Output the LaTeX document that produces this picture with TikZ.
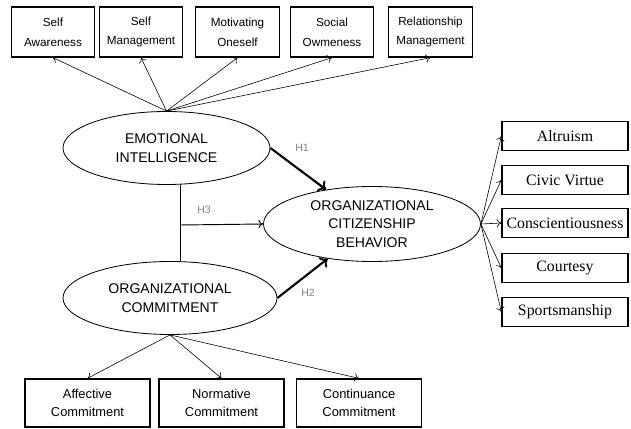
\documentclass[tikz,border=0pt]{standalone}
\usepackage{fontspec}
\setsansfont{Liberation Sans}
\newfontfamily\rmlib{Liberation Serif}
\usetikzlibrary{shapes.geometric, arrows.meta, positioning}
\definecolor{hypGray}{RGB}{130, 130, 130}
\tikzset{
  topbox/.style={draw, line width=1.1pt, minimum width=2.5cm, minimum height=1.5cm, inner sep=1pt, align=center, font=\sffamily\fontsize{10}{17}\selectfont},
  ocbbox/.style={draw, line width=1.1pt, minimum width=3.78cm, minimum height=0.87cm, inner sep=1pt, font=\rmlib\fontsize{13.5}{14}\selectfont},
  ocbox/.style={draw, line width=1.1pt, minimum width=3.75cm, minimum height=1.44cm, inner sep=1pt, align=center, font=\sffamily\fontsize{11}{15}\selectfont},
  construct/.style={draw, ellipse, line width=0.7pt, inner sep=0pt, align=center, font=\sffamily\fontsize{12}{16}\selectfont},
  thinarrow/.style={line width=0.5pt, -{To[length=4pt, width=7pt]}},
  boldarrow/.style={line width=1.8pt, -{To[length=6pt, width=11pt, line width=1.6pt]}},
  hyp/.style={text=hypGray, font=\sffamily\fontsize{9}{10}\selectfont}
}

\begin{document}
\begin{tikzpicture}[x=0.03cm, y=-0.03cm]
  \useasboundingbox (0,0) rectangle (631,429);
  % latent constructs
  \node[construct, minimum width=6.21cm, minimum height=2.19cm] (ei) at (166.5,148) {EMOTIONAL\\INTELLIGENCE};
  \node[construct, minimum width=6.42cm, minimum height=2.19cm] (oc) at (170,298) {ORGANIZATIONAL\\COMMITMENT};
  \node[construct, minimum width=6.51cm, minimum height=2.25cm] (ocb) at (372,224) {ORGANIZATIONAL\\CITIZENSHIP\\BEHAVIOR};

  % emotional intelligence dimensions
  \node[topbox] (sa) at (53,32) {Self\\Awareness};
  \node[topbox] (sm) at (141,32) {Self\\Management};
  \node[topbox] (mo) at (237.5,32) {Motivating\\Oneself};
  \node[topbox] (so) at (332,32) {Social\\Owmeness};
  \node[topbox] (rm) at (430.5,32) {Relationship\\Management};

  % citizenship behavior dimensions
  \node[ocbbox] (al) at (565,136) {Altruism};
  \node[ocbbox] (cv) at (565,180) {Civic Virtue};
  \node[ocbbox] (cs) at (565,223) {Conscientiousness};
  \node[ocbbox] (co) at (565,268) {Courtesy};
  \node[ocbbox] (sp) at (565,312) {Sportsmanship};

  % commitment dimensions
  \node[ocbox] (ac) at (87.5,403) {Affective\\Commitment};
  \node[ocbox] (nc) at (221.5,403) {Normative\\Commitment};
  \node[ocbox] (cc) at (359,403) {Continuance\\Commitment};

  \foreach \d in {sa, sm, mo, so, rm}
    \draw[thinarrow] (ei.north) -- (\d.south);
  \foreach \d in {al, cv, cs, co, sp}
    \draw[thinarrow] (ocb.east) -- (\d.west);
  \foreach \d in {ac, nc, cc}
    \draw[thinarrow] (oc.south) -- (\d.north);

  % hypotheses
  \draw[boldarrow] (ei.east) -- (ocb);
  \draw[boldarrow] (oc.east) -- (ocb);
  \coordinate (mid) at (180,225);
  \draw[line width=0.8pt] (mid |- ei.south) -- (mid |- oc.north);
  \draw[line width=0.8pt, -{To[length=4pt, width=7pt]}] (mid) -- (ocb.west);
  \node[hyp] (h1) at (302,148) {H1};
  \node[hyp] (h2) at (308,293) {H2};
  \node[hyp] (h3) at (204,210) {H3};
\end{tikzpicture}
\end{document}
